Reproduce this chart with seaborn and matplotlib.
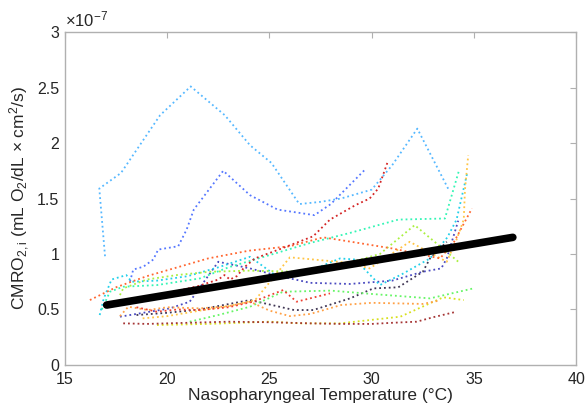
import matplotlib
matplotlib.use("Agg")
import matplotlib.pyplot as plt
import seaborn as sns
import pandas as pd

# Temperatures (°C) and CMRO2,i values (units of 1e-7 mL O2/dL x cm^2/s)
sky_x = [16.96, 16.68, 17.74, 19.65, 21.15, 22.82, 24.05, 25.1, 26.46, 27.5, 28.5, 30.0, 31.0, 32.23, 33.79]
sky_y = [0.98, 1.59, 1.73, 2.25, 2.51, 2.25, 1.98, 1.82, 1.45, 1.47, 1.50, 1.58, 1.80, 2.13, 1.57]

blue_x = [18.18, 18.34, 18.83, 19.32, 19.56, 20.54, 20.95, 21.3, 22.74, 24.05, 25.4, 27.2, 28.0, 29.67]
blue_y = [0.75, 0.86, 0.885, 0.95, 1.04, 1.07, 1.22, 1.40, 1.75, 1.53, 1.40, 1.35, 1.45, 1.76]

navy_x = [17.69, 20.13, 21.1, 22.5, 24.05, 25.5, 27.0, 28.94, 31.0, 32.5, 33.4, 33.67, 34.23]
navy_y = [0.435, 0.51, 0.57, 0.93, 0.87, 0.80, 0.74, 0.73, 0.76, 0.84, 0.87, 0.96, 1.30]

dark_x = [18.5, 20.0, 21.6, 24.05, 26.2, 27.14, 28.94, 30.08, 31.3, 32.5, 32.85, 33.67]
dark_y = [0.45, 0.47, 0.50, 0.585, 0.495, 0.495, 0.60, 0.69, 0.70, 0.84, 0.96, 1.11]

cyan_x = [16.7, 16.9, 17.28, 18.0, 18.26, 19.5, 21.0, 22.5, 24.05, 25.5, 27.0, 28.45, 29.2, 30.4, 31.5, 32.85, 33.7, 34.15, 34.67]
cyan_y = [0.45, 0.60, 0.77, 0.81, 0.75, 0.76, 0.80, 0.88, 0.975, 0.78, 0.85, 0.96, 0.95, 0.72, 0.82, 0.96, 1.15, 1.31, 1.73]

aqua_x = [16.8, 17.2, 17.85, 19.5, 21.6, 23.0, 25.0, 27.0, 28.94, 31.3, 33.58, 34.28]
aqua_y = [0.50, 0.66, 0.705, 0.72, 0.78, 0.88, 0.99, 1.10, 1.19, 1.31, 1.32, 1.76]

green_x = [21.1, 22.5, 24.05, 25.67, 28.0, 30.0, 32.85, 34.97]
green_y = [0.39, 0.45, 0.525, 0.66, 0.67, 0.64, 0.60, 0.69]

ygreen_x = [17.69, 17.85, 19.0, 20.46, 22.1, 24.0, 26.5, 28.5, 30.4, 32.1, 33.66, 34.3]
ygreen_y = [0.63, 0.69, 0.77, 0.81, 0.84, 0.85, 0.84, 0.90, 1.00, 1.26, 1.02, 0.92]

yellow_x = [19.5, 22.0, 25.0, 26.5, 28.45, 31.4, 33.5, 34.5]
yellow_y = [0.36, 0.37, 0.39, 0.375, 0.375, 0.435, 0.61, 0.585]

gold_x = [18.8, 20.0, 21.6, 23.0, 24.3, 26.0, 28.94, 29.9, 31.86, 33.67, 34.15, 34.5, 34.56, 34.72]
gold_y = [0.42, 0.44, 0.49, 0.53, 0.585, 0.97, 0.92, 0.87, 1.11, 0.93, 1.13, 1.31, 1.58, 1.89]

orange_x = [17.69, 18.1, 19.07, 20.0, 21.6, 23.0, 24.05, 25.0, 26.0, 27.0, 28.5, 30.0, 32.5, 33.3]
orange_y = [0.44, 0.525, 0.495, 0.52, 0.51, 0.53, 0.57, 0.49, 0.44, 0.46, 0.54, 0.56, 0.55, 0.58]

ored_x = [16.22, 17.5, 19.0, 20.5, 22.0, 24.0, 26.0, 27.63, 29.0, 31.0, 33.34, 34.0, 34.9]
ored_y = [0.585, 0.70, 0.80, 0.88, 0.96, 1.03, 1.07, 1.15, 1.11, 1.05, 0.96, 1.10, 1.41]

red_x = [19.0, 19.97, 21.5, 22.5, 22.8, 23.07, 23.4, 23.8, 24.29, 25.6, 27.14, 27.96, 29.2, 29.9, 30.32, 30.8]
red_y = [0.58, 0.645, 0.71, 0.77, 0.81, 0.77, 0.80, 0.885, 0.96, 1.05, 1.16, 1.31, 1.44, 1.50, 1.59, 1.84]

red2_x = [18.5, 19.5, 20.5, 21.6, 23.0, 24.2, 25.67, 26.33, 27.96]
red2_y = [0.52, 0.48, 0.50, 0.495, 0.52, 0.57, 0.675, 0.57, 0.645]

dred_x = [17.85, 19.0, 21.0, 23.0, 25.0, 27.0, 28.5, 30.0, 31.0, 32.2, 33.0, 34.15]
dred_y = [0.375, 0.37, 0.38, 0.39, 0.385, 0.375, 0.37, 0.37, 0.38, 0.39, 0.43, 0.48]

fit_x = [17.04, 36.9]
fit_y = [0.54, 1.15]

x_ticks = [15, 20, 25, 30, 35, 40]
y_ticks = [0, 0.5, 1, 1.5, 2, 2.5, 3]
y_tick_labels = ["0", "0.5", "1", "1.5", "2", "2.5", "3"]

series = {
    "dark": (dark_x, dark_y, "#3f3553"),
    "navy": (navy_x, navy_y, "#4a4ac0"),
    "blue": (blue_x, blue_y, "#5577ff"),
    "sky": (sky_x, sky_y, "#55b8ff"),
    "cyan": (cyan_x, cyan_y, "#22d0ea"),
    "aqua": (aqua_x, aqua_y, "#33f5b5"),
    "green": (green_x, green_y, "#66f566"),
    "ygreen": (ygreen_x, ygreen_y, "#aaf040"),
    "yellow": (yellow_x, yellow_y, "#d8e020"),
    "gold": (gold_x, gold_y, "#ffc545"),
    "orange": (orange_x, orange_y, "#ffa045"),
    "ored": (ored_x, ored_y, "#ff6630"),
    "red2": (red2_x, red2_y, "#ee4030"),
    "red": (red_x, red_y, "#d42525"),
    "dred": (dred_x, dred_y, "#a53535"),
}

rows = []
for name, (xs, ys, _) in series.items():
    for i, (a, b) in enumerate(zip(xs, ys)):
        rows.append({"subject": name, "order": i, "temp": a, "cmro": b})
df = pd.DataFrame(rows)
palette = {k: v[2] for k, v in series.items()}

sns.set_style("white")
plt.rcParams["font.family"] = ["Liberation Sans", "DejaVu Sans"]
plt.rcParams["mathtext.fontset"] = "custom"
plt.rcParams["mathtext.rm"] = "Liberation Sans"
plt.rcParams["mathtext.it"] = "Liberation Sans"

fig = plt.figure(figsize=(5.85, 4.11), dpi=100)
ax = fig.add_axes([0.111, 0.112, 0.874, 0.81])

sns.lineplot(data=df, x="temp", y="cmro", hue="subject", palette=palette,
             sort=False, estimator=None, linestyle=":", linewidth=1.3,
             legend=False, ax=ax)
fitdf = pd.DataFrame({"temp": fit_x, "cmro": fit_y})
sns.lineplot(data=fitdf, x="temp", y="cmro", color="black", linewidth=5.5,
             sort=False, estimator=None, ax=ax)

ax.set_xlim(15, 40)
ax.set_ylim(0, 3)
ax.set_xticks(x_ticks)
ax.set_xticklabels([str(t) for t in x_ticks])
ax.set_yticks(y_ticks)
ax.set_yticklabels(y_tick_labels)
ax.tick_params(direction="in", length=4, width=0.8, color="#b0b0b0",
               labelsize=11.5, labelcolor="#262626", top=True, right=True)
ax.tick_params(axis="x", pad=5)
ax.tick_params(axis="y", pad=4)
for s in ax.spines.values():
    s.set_color("#b0b0b0")
    s.set_linewidth(1.0)
ax.set_xlabel("Nasopharyngeal Temperature (°C)", fontsize=12.5, color="#262626", labelpad=1)
ax.set_ylabel(r"CMRO$_{\mathrm{2,i}}$ (mL O$_2$/dL × cm$^2$/s)", fontsize=12.5,
              color="#262626", labelpad=4)
ax.text(0.0, 1.008, "×10$^{-7}$", transform=ax.transAxes, fontsize=12,
        color="#262626", ha="left", va="bottom")

fig.savefig("out.png", dpi=100)
